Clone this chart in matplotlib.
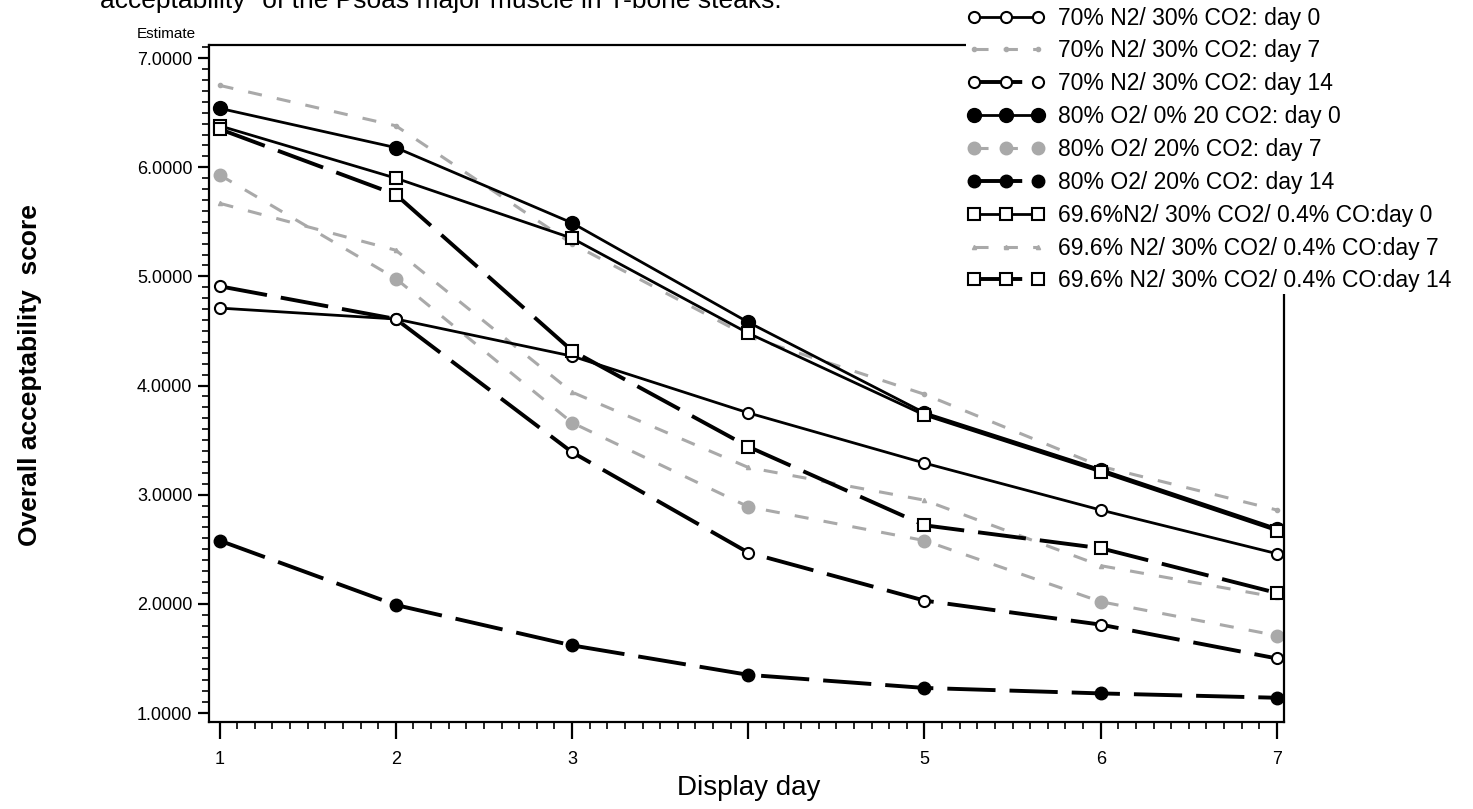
import matplotlib
matplotlib.use("Agg")
import matplotlib.pyplot as plt
from matplotlib.ticker import MultipleLocator, FixedLocator

plt.rcParams['font.family'] = ['Liberation Sans', 'DejaVu Sans']

days = [1, 2, 3, 4, 5, 6, 7]
day_labels = ['1', '2', '3', '', '5', '6', '7']

n2_d0 = [4.71, 4.61, 4.27, 3.75, 3.29, 2.86, 2.46]
n2_d7 = [6.75, 6.38, 5.30, 4.45, 3.92, 3.26, 2.86]
n2_d14 = [4.91, 4.61, 3.39, 2.47, 2.03, 1.81, 1.50]
o2_d0 = [6.54, 6.18, 5.49, 4.58, 3.75, 3.23, 2.69]
o2_d7 = [5.93, 4.98, 3.66, 2.89, 2.58, 2.02, 1.71]
o2_d14 = [2.58, 1.99, 1.62, 1.35, 1.23, 1.18, 1.14]
co_d0 = [6.38, 5.90, 5.35, 4.48, 3.73, 3.21, 2.67]
co_d7 = [5.67, 5.24, 3.94, 3.25, 2.95, 2.35, 2.06]
co_d14 = [6.35, 5.75, 4.32, 3.44, 2.72, 2.51, 2.10]

labels = ['70% N2/ 30% CO2: day 0', '70% N2/ 30% CO2: day 7', '70% N2/ 30% CO2: day 14',
          '80% O2/ 0% 20 CO2: day 0', '80% O2/ 20% CO2: day 7', '80% O2/ 20% CO2: day 14',
          '69.6%N2/ 30% CO2/ 0.4% CO:day 0', '69.6% N2/ 30% CO2/ 0.4% CO:day 7',
          '69.6% N2/ 30% CO2/ 0.4% CO:day 14']

gray = '#a9a9a9'
solid_lw = 2.0
dash_lw = 2.8
black_dash = (0, (12.4, 3.6))
gray_lw = 2.2
gray_dash = (0, (4.6, 5.0))

fig = plt.figure(figsize=(14.73, 8.09), dpi=100)
ax = fig.add_axes([209 / 1473, 1 - 722 / 809, (1284 - 209) / 1473, (722 - 45) / 809])

h = {}
# gray series first so black sits on top
h[1], = ax.plot(days, n2_d7, color=gray, lw=gray_lw, ls=gray_dash, marker='o', ms=3,
                mfc=gray, mec=gray, zorder=2)
h[4], = ax.plot(days, o2_d7, color=gray, lw=gray_lw, ls=gray_dash, marker='o', ms=9,
                mfc=gray, mec=gray, zorder=2)
h[7], = ax.plot(days, co_d7, color=gray, lw=gray_lw, ls=gray_dash, marker='^', ms=3,
                mfc=gray, mec=gray, zorder=2)

h[0], = ax.plot(days, n2_d0, color='black', lw=solid_lw, marker='o', ms=8,
                mfc='white', mec='black', mew=1.5, zorder=3)
h[2], = ax.plot(days, n2_d14, color='black', lw=dash_lw, ls=black_dash, marker='o', ms=8,
                mfc='white', mec='black', mew=1.5, zorder=3)
h[3], = ax.plot(days, o2_d0, color='black', lw=solid_lw, marker='o', ms=10,
                mfc='black', mec='black', zorder=3)
h[5], = ax.plot(days, o2_d14, color='black', lw=dash_lw, ls=black_dash, marker='o', ms=9,
                mfc='black', mec='black', zorder=3)
h[6], = ax.plot(days, co_d0, color='black', lw=solid_lw, marker='s', ms=8,
                mfc='white', mec='black', mew=1.5, zorder=3)
h[8], = ax.plot(days, co_d14, color='black', lw=dash_lw, ls=black_dash, marker='s', ms=8,
                mfc='white', mec='black', mew=1.5, zorder=3)

ax.set_xlim(0.94, 7.04)
ax.set_ylim(0.918, 7.12)
ax.xaxis.set_major_locator(FixedLocator(days))
ax.set_xticklabels(day_labels)
ax.xaxis.set_minor_locator(MultipleLocator(0.1))
ax.yaxis.set_major_locator(MultipleLocator(1))
ax.yaxis.set_minor_locator(MultipleLocator(0.1))
ax.yaxis.set_major_formatter(plt.FuncFormatter(lambda v, p: '{:.4f}'.format(v)))

ax.tick_params(axis='x', which='major', length=12, width=1.6, labelsize=13, pad=9)
ax.tick_params(axis='x', which='minor', length=5, width=1.2)
ax.tick_params(axis='y', which='major', length=8, width=1.6, labelsize=13, pad=4)
ax.tick_params(axis='y', which='minor', length=5, width=1.2)
for s in ax.spines.values():
    s.set_linewidth(1.6)

fig.text(749 / 1473, 1 - 788 / 809, 'Display day', fontsize=20, ha='center', va='center')
fig.text(30 / 1473, 1 - 375 / 809, 'Overall acceptability  score', rotation=90,
         fontsize=19, fontweight='bold', ha='center', va='center')
fig.text(196 / 1473, 1 - 38 / 809, 'Estimate', fontsize=11, ha='right', va='baseline')
# title line is cut off at the top edge, as in the source scan
fig.text(100 / 1473, 1 - 8 / 809, 'acceptability" of the Psoas major muscle in T-bone steaks.',
         fontsize=19, ha='left', va='baseline')

leg = fig.legend([h[i] for i in range(9)], labels, loc='upper left',
                 bbox_to_anchor=(955 / 1473, 1 + 6 / 809), fontsize=16.5, numpoints=3,
                 handlelength=3.35, handletextpad=0.6, labelspacing=0.43,
                 borderpad=0.05, frameon=True, fancybox=False)
leg.get_frame().set_facecolor('white')
leg.get_frame().set_edgecolor('none')
leg.get_frame().set_alpha(1)

fig.savefig('out.png', dpi=100)
